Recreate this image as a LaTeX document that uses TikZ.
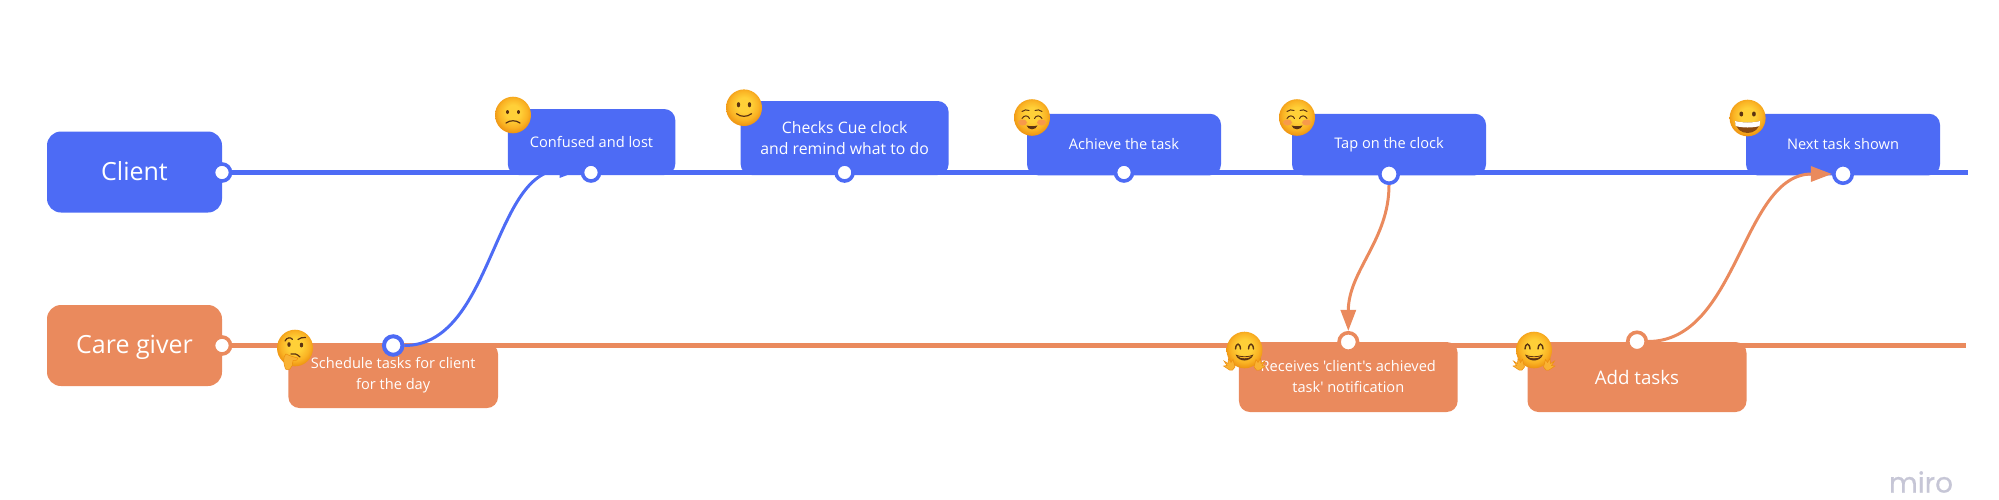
\documentclass[tikz,border=0pt]{standalone}
\usepackage{fontspec}
\newfontfamily\osans{Open Sans}
\newfontfamily\mirofont[FakeBold=0.6]{Poppins}
\usetikzlibrary{backgrounds,arrows.meta}
\definecolor{cblue}{HTML}{4D6BF5}
\definecolor{corange}{HTML}{EA8A5D}
\definecolor{emA}{HTML}{FFD038}
\definecolor{emB}{HTML}{FAB324}
\definecolor{emC}{HTML}{EC8E0E}
\definecolor{emdark}{HTML}{5B3312}
\definecolor{emmouth}{HTML}{8A4A12}
\definecolor{emcheek}{HTML}{F79A4A}
\definecolor{emhand}{HTML}{F9B233}
\definecolor{mirogray}{HTML}{C6C6D6}
\pgfdeclareradialshading{emojiball}{\pgfpoint{0bp}{5bp}}{color(0bp)=(emA);color(10bp)=(emA);color(20bp)=(emB);color(28bp)=(emC);color(50bp)=(emC)}
\newcommand{\emface}{\shade[shading=emojiball] (0,0) ellipse [x radius=18,y radius=18.3];}
\tikzset{
  lanebox/.style={rectangle,rounded corners=14,minimum width=175,minimum height=81,inner sep=0,text=white,text height=20,text depth=3.4,font=\osans\fontsize{25}{30}\selectfont},
  bluebox/.style={rectangle,rounded corners=11,fill=cblue,inner sep=0,text=white,align=center,font=\osans\fontsize{14.6}{21.5}\selectfont},
  orangebox/.style={rectangle,rounded corners=11,fill=corange,inner sep=0,text=white,align=center,font=\osans\fontsize{14.6}{21}\selectfont},
  portb/.style={circle,draw=cblue,fill=white,line width=3.6,minimum size=17,inner sep=0},
  porto/.style={circle,draw=corange,fill=white,line width=3.6,minimum size=17,inner sep=0},
  lane/.style={line width=4.2},
  flow/.style={line width=3,-{Triangle[length=21,width=15]}},
  emsad/.pic={\emface
    \fill[emdark] (-5.5,-3) ellipse [x radius=1.5,y radius=2] (5.5,-3) ellipse [x radius=1.5,y radius=2];
    \draw[emdark,line width=1.2,line cap=round] (-7,8) .. controls (-3,5) and (3,5) .. (7,8);},
  emsmile/.pic={\emface
    \fill[emdark] (-5.5,-3) ellipse [x radius=1.7,y radius=2.6] (5.5,-3) ellipse [x radius=1.7,y radius=2.6];
    \draw[emdark,line width=1.2,line cap=round] (-7.5,6) .. controls (-3,9.5) and (3,9.5) .. (7.5,6);},
  emblush/.pic={\emface
    \fill[emcheek] (-9.5,5) ellipse [x radius=4.5,y radius=3] (9.5,5) ellipse [x radius=4.5,y radius=3];
    \draw[emdark,line width=1,line cap=round] (-10,1) .. controls (-8,-2.5) and (-4,-2.5) .. (-2.5,1) (2.5,1) .. controls (4,-2.5) and (8,-2.5) .. (10,1)
      (-10,-6) .. controls (-8,-8) and (-5,-8) .. (-3,-7) (3,-7) .. controls (5,-8) and (8,-8) .. (10,-6);
    \fill[emdark] (-5.5,8) .. controls (-2,9) and (2,9) .. (5.5,8) .. controls (4,13) and (-4,13) .. (-5.5,8) -- cycle;},
  emgrin/.pic={\emface
    \fill[emdark] (-6.3,-4) ellipse [x radius=1.9,y radius=2.5] (6.3,-4) ellipse [x radius=1.9,y radius=2.5];
    \fill[emmouth] (-12.5,3) .. controls (-5,5) and (5,5) .. (12.5,3) .. controls (12,19) and (-12,19) .. (-12.5,3) -- cycle;
    \fill[white] (-12.5,3) .. controls (-5,5) and (5,5) .. (12.5,3) -- (12,8) .. controls (5,10) and (-5,10) .. (-12,8) -- cycle;},
  emthink/.pic={\emface
    \fill[emdark] (-6,-3.5) ellipse [x radius=1.7,y radius=2.4] (6.5,-3) ellipse [x radius=1.7,y radius=2.4];
    \draw[emdark,line width=1.2,line cap=round] (-10,-7) .. controls (-8,-11) and (-4,-11) .. (-2.5,-8.5) (3,-8.5) .. controls (5,-10) and (8,-11) .. (10.5,-10.5) (-4,6) .. controls (-1,5) and (2,6) .. (5,9);
    \fill[emhand,draw=emC,line width=.5] (-9.5,21) .. controls (-12,14) and (-12,9) .. (-9,6) .. controls (-5,8) and (-1,9) .. (3,10) .. controls (3,12) and (1,13) .. (-2,12.5) .. controls (-2,16) and (-3,19) .. (-5,21) .. controls (-7,22) and (-8,22) .. (-9.5,21) -- cycle;},
  emhug/.pic={\emface
    \draw[emdark,line width=1.4,line cap=round] (-9,-1) .. controls (-8.5,-7.5) and (-4.5,-7.5) .. (-4,-1) (4,-1) .. controls (4.5,-7.5) and (8.5,-7.5) .. (9,-1);
    \fill[emdark] (-9,4.5) .. controls (-4,7) and (4,7) .. (9,4.5) .. controls (6,12.5) and (-6,12.5) .. (-9,4.5) -- cycle;
    \fill[emB] (-7,6.2) .. controls (-3,7.6) and (3,7.6) .. (7,6.2) .. controls (4,9) and (-4,9) .. (-7,6.2) -- cycle;
    \fill[emhand,draw=emC,line width=.5] (-12,20) -- (-15,20) -- (-21,16) -- (-17.5,15.5) -- (-20.5,11) -- (-16.5,13.5) -- (-16,8.5) -- (-13.5,12.5) -- (-11.5,9.5) -- (-9.5,17) -- cycle;
    \fill[emhand,draw=emC,line width=.5] (12,20) -- (15,20) -- (21,16) -- (17.5,15.5) -- (20.5,11) -- (16.5,13.5) -- (16,8.5) -- (13.5,12.5) -- (11.5,9.5) -- (9.5,17) -- cycle;}
}
\begin{document}
\begin{tikzpicture}[x=1pt,y=-1pt]
\useasboundingbox (0,0) rectangle (1999,499);
% lane heads
\node[lanebox,fill=cblue] (client) at (134.5,172) {Client};
\node[lanebox,fill=corange] (care) at (134.5,345.5) {Care giver};
% boxes
\node[bluebox,minimum width=167.5,minimum height=66] (confused) at (591.5,142) {Confused and lost};
\node[bluebox,minimum width=208,minimum height=74,font=\osans\fontsize{15.8}{21.5}\selectfont] (checks) at (844.6,138) {Checks Cue clock\\and remind what to do};
\node[bluebox,minimum width=194,minimum height=61.5] (achieve) at (1124,144.5) {Achieve the task};
\node[bluebox,minimum width=194,minimum height=61.5] (tap) at (1389,144.5) {Tap on the clock};
\node[bluebox,minimum width=194,minimum height=61.5] (next) at (1843,144.5) {Next task shown};
\node[orangebox,minimum width=209.6,minimum height=65] (schedule) at (393.2,375.5) {Schedule tasks for client\\for the day};
\node[orangebox,minimum width=218.7,minimum height=70] (receives) at (1348.3,377) {Receives 'client's achieved\\task' notification};
\node[orangebox,minimum width=219,minimum height=70,font=\osans\fontsize{18.7}{24}\selectfont] (add) at (1637,377) {Add tasks};
% ports
\node[portb] (pclient) at (222,172.5) {};
\node[porto] (pcare) at (222,345.5) {};
\node[portb] (pconfused) at (591,172.5) {};
\node[portb] (pchecks) at (844.6,172.5) {};
\node[portb] (pachieve) at (1124,172.5) {};
\node[portb,minimum size=18.5] (ptap) at (1389,174) {};
\node[portb,minimum size=18.5] (pnext) at (1843,174) {};
\node[portb,minimum size=18.5,line width=4] (pschedule) at (393.2,345.5) {};
\node[porto,minimum size=18.5] (preceives) at (1348.3,342) {};
\node[porto,minimum size=18.5] (padd) at (1637,341.5) {};
\coordinate (endblue) at (1968,172.5);
\coordinate (endorange) at (1966,345.5);
\begin{scope}[on background layer]
\draw[lane,cblue] (pclient.center) -- (endblue);
\draw[lane,corange] (pcare.center) -- (endorange);
\end{scope}
% connectors
\draw[flow,cblue] (pschedule.east) .. controls +(88,0) and +(-88,0) .. ([yshift=2.5]pconfused.west);
\draw[flow,corange] (ptap.south) .. controls +(0,55) and +(0,-60) .. (preceives.north);
\draw[flow,corange] (padd.east) .. controls +(90,0) and +(-90,0) .. (pnext.west);
% emoji
\pic at (513,115) {emsad};
\pic at (295,348) {emthink};
\pic at (744,107.7) {emsmile};
\pic at (1032,117.5) {emblush};
\pic at (1297,117.5) {emblush};
\pic at (1747.6,118) {emgrin};
\pic at (1244.5,350) {emhug};
\pic at (1534,350) {emhug};
% watermark
\node[inner sep=0,text=mirogray,font=\mirofont\fontsize{28}{30}\selectfont] (miro) at (1921,482) {miro};
\end{tikzpicture}
\end{document}
